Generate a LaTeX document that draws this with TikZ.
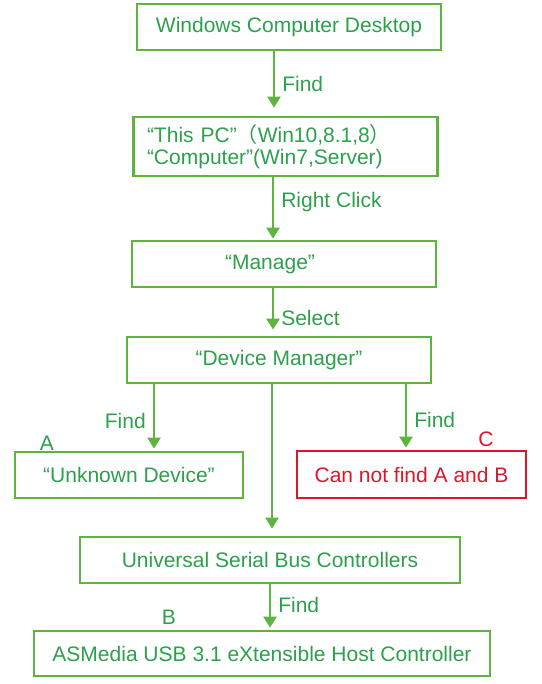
\documentclass[tikz,border=0pt]{standalone}
\usepackage{fontspec}
\setmainfont{Liberation Sans}
\newfontfamily\cjk{Noto Sans CJK SC}
\usetikzlibrary{
    arrows.meta,
    positioning
}
\definecolor{boxgreen}{RGB}{94,180,62}
\definecolor{textgreen}{RGB}{44,160,76}
\definecolor{alertred}{RGB}{222,22,44}
\tikzset{
    % Boxes
    box/.style={draw=boxgreen,line width=2.8pt,minimum width=#1,minimum height=46pt,inner sep=0pt,text=textgreen},
    box/.default=304pt,
    alert box/.style={box=#1,draw=alertred,text=alertred},
    %
    % Arrows
    arrow tip/.tip={Triangle[width=13pt,length=11pt]},
    arr/.style={-{arrow tip},line width=2.6pt,draw=boxgreen},
    lbl/.style={text=textgreen,inner xsep=7pt,inner ysep=0pt}
}

\begin{document}
\begin{tikzpicture}[x=1pt,y=-1pt,font=\fontsize{21}{22}\selectfont]
    \useasboundingbox (0,0) rectangle (541,684);
    \node[box] (desk) at (289,27) {Windows Computer Desktop};
    \node[box,minimum height=59pt,text width=277pt,inner xsep=13pt,align=left] (pc) at (285.5,146.5)
        {“This PC”{\cjk （}Win10,8.1,8{\cjk ）}\\“Computer”(Win7,Server)};
    \node[box] (manage) at (284,264) {“Manage”\hspace*{28pt}};
    \node[box] (devmgr) at (279,360) {“Device Manager”};
    \node[box=228pt] (unknown) at (129,475) {“Unknown Device”};
    \node[alert box=229pt,minimum height=47pt] (nofind) at (411.5,474.5) {Can not find A and B};
    \node[box=380pt] (usb) at (270,560) {Universal Serial Bus Controllers};
    \node[box=456pt,minimum height=45pt] (asmedia) at (262,653.5) {ASMedia USB 3.1 eXtensible Host Controller};
    % marks
    \node[text=textgreen] (markA) at (47,443) {A};
    \node[text=textgreen] (markB) at (169,617) {B};
    \node[text=alertred] (markC) at (486,439) {C};
    % flow
    \draw[arr,shorten >=8pt] (desk.south -| 274,0) -- (pc.north -| 274,0) node[lbl,midway,right] {Find};
    \draw[arr,shorten >=1pt] (pc.south -| 273,0) -- (manage.north -| 273,0) node[lbl,pos=.4,right] {Right Click};
    \draw[arr,shorten >=6pt] (manage.south -| 273,0) -- (devmgr.north -| 273,0) node[lbl,pos=.62,right] {Select};
    \draw[arr,shorten >=2pt] (devmgr.south -| 154,0) -- (unknown.north -| 154,0) node[lbl,pos=.55,left] {Find};
    \draw[arr,shorten >=2pt] (devmgr.south -| 406,0) -- (nofind.north -| 406,0) node[lbl,pos=.55,right] {Find};
    \draw[arr,shorten >=7pt] (devmgr.south -| 272,0) -- (usb.north -| 272,0);
    \draw[arr,shorten >=2pt] (usb.south -| 270,0) -- (asmedia.north -| 270,0) node[lbl,pos=.45,right] {Find};
\end{tikzpicture}
\end{document}
